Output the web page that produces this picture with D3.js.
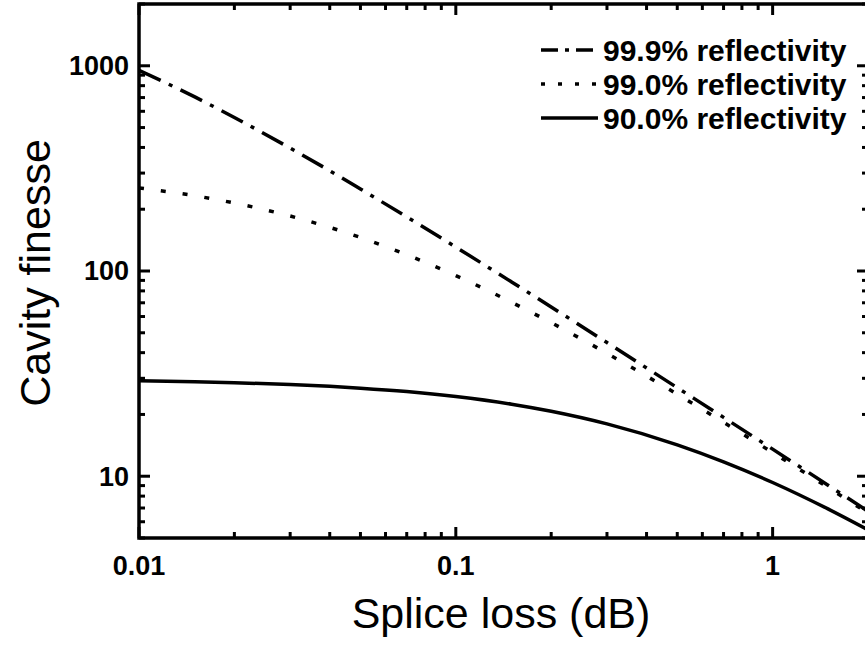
<!DOCTYPE html>
<html>
<head>
<meta charset="utf-8">
<script src="https://cdn.jsdelivr.net/npm/d3@7"></script>
<style>
  body { margin: 0; background: #fff; }
  svg { display: block; }
  text { font-family: "Liberation Sans", Arial, sans-serif; fill: #000; }
</style>
</head>
<body>
<svg id="chart" width="865" height="648"></svg>
<script>
// ---- data ----
const spliceLoss = [0.01, 0.015, 0.02, 0.03, 0.04, 0.05, 0.07, 0.1, 0.15, 0.2, 0.3, 0.5, 0.7, 1, 1.5, 2];
const finesse999 = [951, 705, 560, 397, 308, 251, 183.5, 130.8, 88.4, 66.8, 44.8, 27.0, 19.35, 13.55, 9.02, 6.75];
const finesse990 = [254, 232.6, 214.4, 185.3, 163.1, 145.7, 120.0, 95.0, 70.4, 56.0, 39.7, 25.1, 18.3, 13.04, 8.79, 6.61];
const finesse900 = [29.17, 28.86, 28.55, 27.97, 27.41, 26.86, 25.85, 24.45, 22.44, 20.73, 17.99, 14.22, 11.75, 9.32, 6.91, 5.48];
const seriesNames = ["99.9% reflectivity", "99.0% reflectivity", "90.0% reflectivity"];
const xTickLabels = ["0.01", "0.1", "1"];
const yTickLabels = ["10", "100", "1000"];
const xDomain = [0.01, 2];
const yDomain = [5, 2000];

// ---- layout ----
const svg = d3.select("#chart");
const L = 139, R = 868, T = 4, B = 538;
const x = d3.scaleLog().domain(xDomain).range([L, R]);
const y = d3.scaleLog().domain(yDomain).range([B, T]);

const series = [
  { name: seriesNames[0], values: finesse999, dash: "24,9,4,9" },
  { name: seriesNames[1], values: finesse990, dash: "5,17" },
  { name: seriesNames[2], values: finesse900, dash: null }
];

svg.append("defs").append("clipPath").attr("id", "clip")
  .append("rect").attr("x", L).attr("y", T).attr("width", R - L).attr("height", B - T);

const line = d3.line()
  .x((d, i) => x(spliceLoss[i]))
  .y(d => y(d))
  .curve(d3.curveMonotoneX);

const g = svg.append("g").attr("clip-path", "url(#clip)");
series.forEach(s => {
  g.append("path")
    .attr("d", line(s.values))
    .attr("fill", "none")
    .attr("stroke", "#000")
    .attr("stroke-width", 3.5)
    .attr("stroke-dasharray", s.dash)
    .attr("stroke-linecap", "butt");
});

// ---- ticks ----
const majorX = [0.01, 0.1, 1];
const minorX = [];
[0.01, 0.1, 1].forEach(d => { for (let k = 2; k <= 9; k++) { const v = d * k; if (v <= 2 + 1e-9) minorX.push(v); } });
const majorY = [10, 100, 1000];
const minorY = [];
[1, 10, 100, 1000].forEach(d => { for (let k = 2; k <= 9; k++) { const v = d * k; if (v >= 5 && v <= 2000 + 1e-9) minorY.push(v); } });

const MAJ = 11, MIN = 6;
const ticks = svg.append("g").attr("stroke", "#000").attr("stroke-width", 3);
function xt(v, len) {
  ticks.append("line").attr("x1", x(v)).attr("x2", x(v)).attr("y1", B).attr("y2", B - len);
  ticks.append("line").attr("x1", x(v)).attr("x2", x(v)).attr("y1", T).attr("y2", T + len);
}
function yt(v, len) {
  ticks.append("line").attr("y1", y(v)).attr("y2", y(v)).attr("x1", L).attr("x2", L + len);
  ticks.append("line").attr("y1", y(v)).attr("y2", y(v)).attr("x1", R).attr("x2", R - len);
}
majorX.forEach(v => xt(v, MAJ));
minorX.forEach(v => xt(v, MIN));
majorY.forEach(v => yt(v, MAJ));
minorY.forEach(v => yt(v, MIN));

// frame
svg.append("rect").attr("x", L).attr("y", T).attr("width", R - L).attr("height", B - T)
  .attr("fill", "none").attr("stroke", "#000").attr("stroke-width", 3.5);

// tick labels
majorX.forEach((v, i) => {
  svg.append("text").attr("x", x(v)).attr("y", B + 37)
    .attr("text-anchor", "middle").attr("font-size", 27).attr("font-weight", "bold")
    .text(xTickLabels[i]);
});
majorY.forEach((v, i) => {
  svg.append("text").attr("x", L - 10).attr("y", y(v)).attr("dy", "0.35em")
    .attr("text-anchor", "end").attr("font-size", 27).attr("font-weight", "bold")
    .text(yTickLabels[i]);
});

// axis titles
svg.append("text").attr("x", 501).attr("y", 628).attr("text-anchor", "middle")
  .attr("font-size", 43).text("Splice loss (dB)");
svg.append("text").attr("transform", "translate(50,273) rotate(-90)")
  .attr("text-anchor", "middle").attr("font-size", 43).text("Cavity finesse");

// legend
const legY = [50, 84, 118];
const legDash = ["17,7,4,7", "4,13", null];
series.forEach((s, i) => {
  svg.append("line").attr("x1", 541).attr("x2", 598).attr("y1", legY[i]).attr("y2", legY[i])
    .attr("stroke", "#000").attr("stroke-width", 3.5).attr("stroke-dasharray", legDash[i]);
  svg.append("text").attr("x", 603).attr("y", legY[i]).attr("dy", "0.35em")
    .attr("font-size", 30).attr("font-weight", "bold").text(s.name);
});
</script>
</body>
</html>
